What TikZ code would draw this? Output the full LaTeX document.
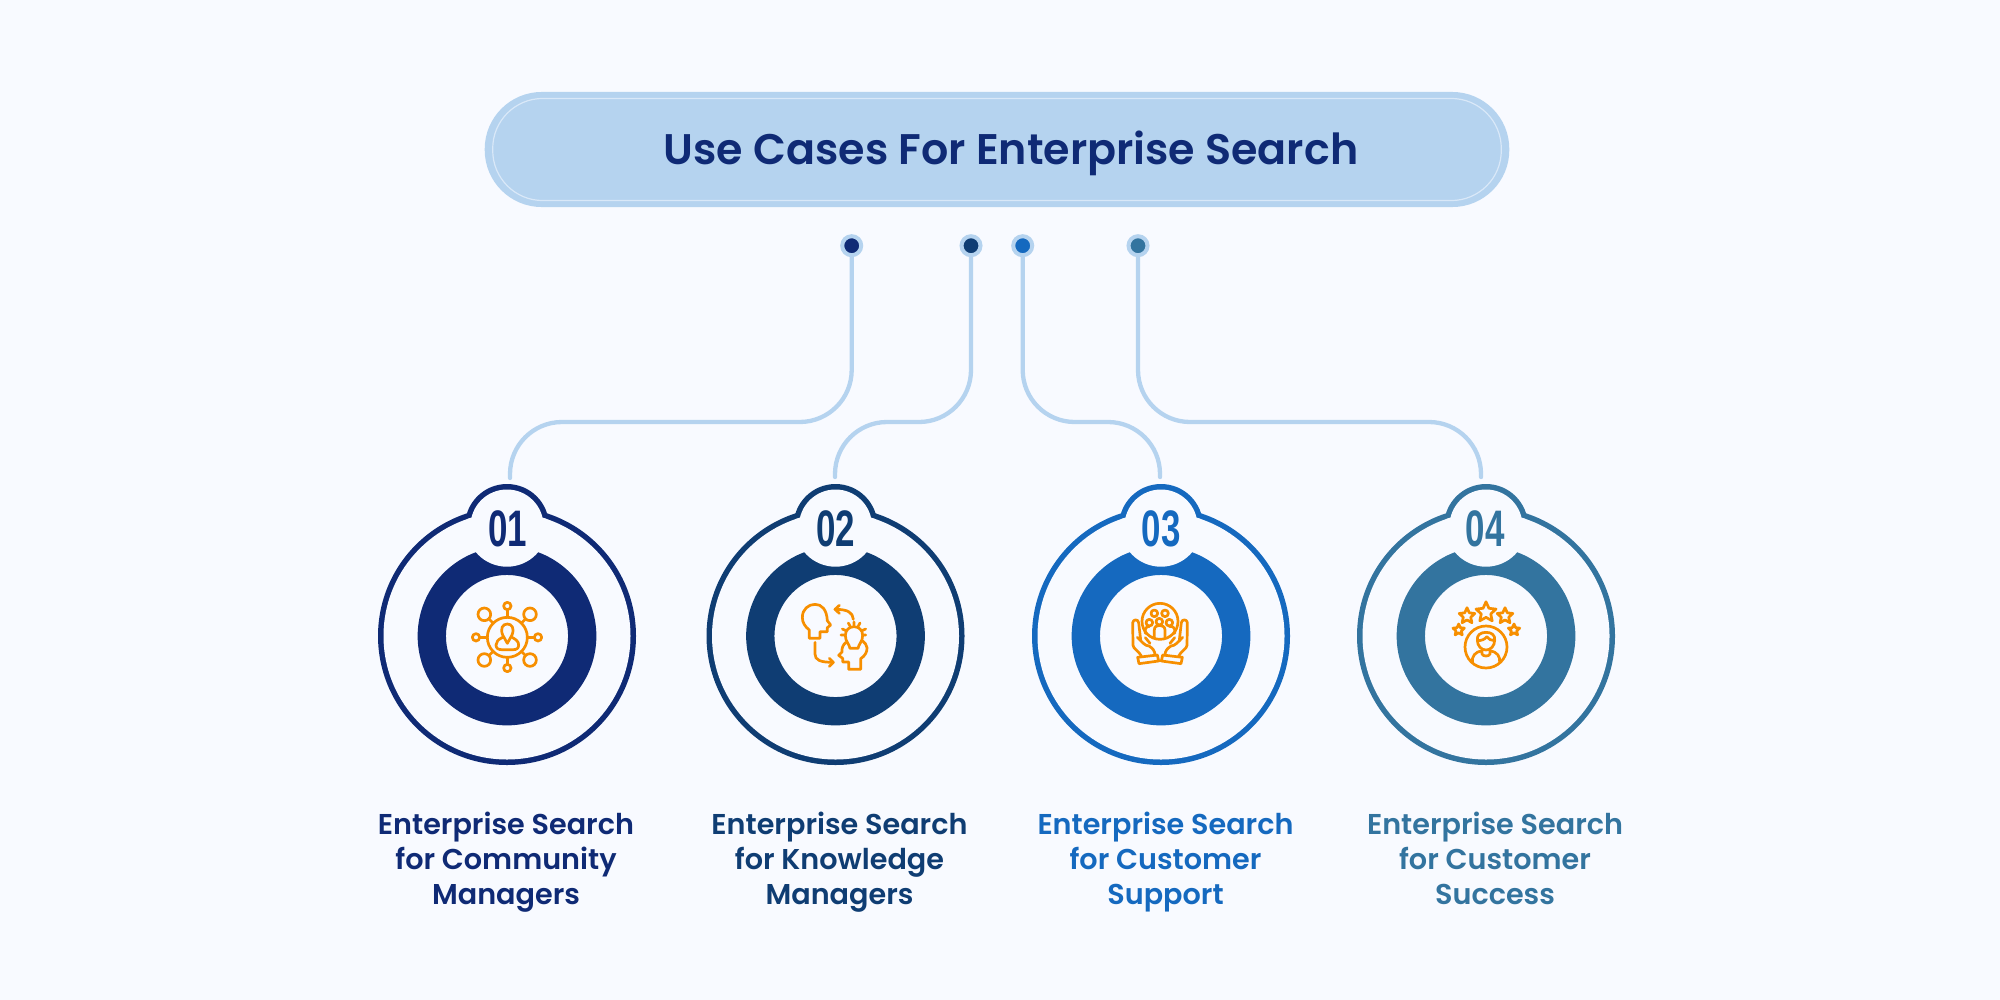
\documentclass[tikz,border=0pt]{standalone}
\usepackage{fontspec}
\usepackage{xcolor}
\usetikzlibrary{shapes.geometric, positioning, calc}
\setmainfont{Poppins SemiBold}
\newfontfamily\numfont{Liberation Sans}[Scale=1.0]
\definecolor{pagebg}{HTML}{F8FAFF}
\definecolor{pilllight}{HTML}{B5D3EF}
\definecolor{pillline}{HTML}{D9E8F8}
\definecolor{commblue}{HTML}{0F2A75}
\definecolor{knowblue}{HTML}{0F3D73}
\definecolor{suppblue}{HTML}{1569BF}
\definecolor{succblue}{HTML}{33749F}
\definecolor{iconorange}{HTML}{F78F00}

\begin{document}
\begin{tikzpicture}[
    x=0.01cm, y=-0.01cm,
    pill/.style={rectangle, rounded corners=0.57cm, fill=pilllight, minimum width=10.24cm, minimum height=1.15cm, inner sep=0},
    pillrim/.style={rectangle, rounded corners=0.5cm, draw=pillline, line width=0.012cm, minimum width=10.08cm, minimum height=1.02cm, inner sep=0},
    startdot/.style={circle, draw=pilllight, line width=0.04cm, fill=#1, minimum size=0.19cm, inner sep=0},
    link/.style={draw=pilllight, line width=0.043cm, line cap=round, rounded corners=0.52cm},
    numtag/.style={font=\numfont\bfseries\fontsize{14.6}{16}\selectfont, text=#1, xscale=0.68, transform shape, inner sep=0},
    usecase/.style={font=\fontsize{8.15}{9.96}\selectfont, text=#1, align=center, inner sep=0},
    iconline/.style={draw=iconorange, line width=0.027cm, line cap=round, line join=round},
    icostar/.style={star, star points=5, star point ratio=2.1, draw=iconorange, line width=0.027cm, line join=round, minimum size=#1, inner sep=0}
]
    % Page
    \fill[pagebg] (0,0) rectangle (2000,1000);
    \useasboundingbox (0,0) rectangle (2000,1000);

    % Title
    \node[pill] (title) at (997,149.5) {};
    \node[pillrim] (titlerim) at (title) {};
    \node[font=\fontsize{12.17}{14}\selectfont, text=commblue, inner sep=0] (titletext) at (1011,153.5) {Use Cases For Enterprise Search};

    % Badges
    \foreach \i/\x/\col in {1/507/commblue, 2/835.5/knowblue, 3/1161/suppblue, 4/1486/succblue} {
        \fill[\col] (\x,636) circle (129) (\x,526) circle (42);
        \fill[pagebg] (\x,636) circle (123.5) (\x,526) circle (36.5);
        \draw[\col, line width=0.283cm] (\x,636) circle (75.2);
        \begin{scope}
            \clip (\x,636) circle (123.5);
            \fill[pagebg] (\x,526) circle (40.7);
        \end{scope}
    }
    \node[numtag=commblue] (num1) at (507.5,529) {01};
    \node[numtag=knowblue] (num2) at (835.5,529) {02};
    \node[numtag=suppblue] (num3) at (1161,529) {03};
    \node[numtag=succblue] (num4) at (1485,529) {04};

    % Dots and connectors
    \node[startdot=commblue] (dot1) at (851.7,245.7) {};
    \node[startdot=knowblue] (dot2) at (971,245.7) {};
    \node[startdot=suppblue] (dot3) at (1022.7,245.7) {};
    \node[startdot=succblue] (dot4) at (1138,245.7) {};
    \coordinate (top1) at (510,478);
    \coordinate (top2) at (835,477);
    \coordinate (top3) at (1160,477);
    \coordinate (top4) at (1481,477);
    \foreach \i in {1,2,3,4} {
        \draw[link] (dot\i.south) -- (dot\i.south |- 0,422) -- (top\i |- 0,422) -- (top\i);
    }

    % Icon 1: person with network
    \begin{scope}[shift={(450,580)}, scale=1/3]
        \draw[iconline] (172,172) circle (60);
        \draw[iconline] (172,78) circle (11) (172,264) circle (11) (78,172) circle (11) (264,172) circle (11);
        \draw[iconline] (103,103) circle (19) (240,103) circle (19) (103,240) circle (19) (240,240) circle (19);
        \draw[iconline] (172,89) -- (172,112) (172,232) -- (172,253) (89,172) -- (112,172) (232,172) -- (253,172);
        \draw[iconline] (117,117) -- (130,130) (226,117) -- (214,130) (117,226) -- (130,214) (226,226) -- (214,214);
        \draw[iconline] (172,190) -- (158,165) .. controls (150,145) and (158,132) .. (172,132) .. controls (186,132) and (194,145) .. (186,165) -- cycle;
        \draw[iconline] (158,172) .. controls (145,178) and (138,185) .. (138,195) .. controls (138,205) and (145,209) .. (155,209) -- (190,209) .. controls (200,209) and (206,205) .. (206,195) .. controls (206,185) and (198,178) .. (186,172);
    \end{scope}

    % Icon 2: heads and bulb
    \begin{scope}[shift={(770,580)}, scale=1/3]
        \draw[iconline] (118,175) -- (118,150) .. controls (105,140) and (97,128) .. (97,112) .. controls (97,88) and (115,73) .. (135,73) .. controls (155,73) and (170,88) .. (172,122) -- (182,135) -- (172,143) -- (172,155) -- (150,155) -- (150,175) -- cycle;
        \draw[iconline] (250,118) .. controls (248,98) and (235,88) .. (195,88);
        \draw[iconline] (208,76) -- (195,88) -- (208,100);
        \draw[iconline] (135,187) -- (135,222) .. controls (135,240) and (150,247) .. (190,247);
        \draw[iconline] (178,235) -- (190,247) -- (178,259);
        \draw[iconline] (240,205) .. controls (238,192) and (226,185) .. (226,166) .. controls (226,150) and (238,140) .. (252,140) .. controls (266,140) and (278,150) .. (278,166) .. controls (278,185) and (266,192) .. (264,205) -- cycle;
        \draw[iconline] (235,129) -- (240,138) (252,126) -- (252,136) (270,129) -- (265,138) (217,147) -- (226,151) (287,147) -- (278,151) (213,165) -- (222,165) (287,165) -- (280,165);
        \draw[iconline] (228,187) .. controls (218,195) and (215,205) .. (216,216) -- (206,226) -- (218,235) -- (218,246) -- (236,246) -- (236,268) -- (272,268) -- (272,236) .. controls (285,228) and (292,215) .. (291,203) .. controls (290,195) and (285,188) .. (278,183);
    \end{scope}

    % Icon 3: people held in two hands
    \begin{scope}[shift={(1100,580)}, scale=1/3]
        \draw[iconline] (180,124) circle (54);
        \draw[iconline] (163,100) circle (10) (195,100) circle (10) (148,128) circle (10) (178,125) circle (10) (208,128) circle (10);
        \draw[iconline] (163,175) -- (163,150) .. controls (163,140) and (170,136) .. (178,136) .. controls (186,136) and (195,140) .. (195,150) -- (195,175);
        \draw[iconline] (136,160) -- (136,148) .. controls (137,142) and (142,139) .. (148,139) (224,160) -- (224,148) .. controls (223,142) and (218,139) .. (208,139);
        \foreach \m/\o in {1/0, -1/360} {
            \begin{scope}[shift={(\o,0)}, xscale=\m]
                \draw[iconline] (122,180) -- (116,128) .. controls (115,117) and (99,117) .. (98,128) -- (99,196) .. controls (99,205) and (118,215) .. (124,228);
                \draw[iconline] (112,172) .. controls (125,185) and (135,198) .. (147,198) .. controls (158,205) and (165,212) .. (165,226);
                \draw[iconline] (136,173) -- (150,190);
                \draw[iconline] (113,232) -- (172,225) -- (176,243) -- (117,251) -- cycle;
            \end{scope}
        }
    \end{scope}

    % Icon 4: person with stars
    \begin{scope}[shift={(1420,580)}, scale=1/3]
        \node[icostar=0.21cm] (star1) at (198,97) {};
        \node[icostar=0.165cm] (star2) at (141,108) {};
        \node[icostar=0.165cm] (star3) at (255,108) {};
        \node[icostar=0.12cm] (star4) at (116,150) {};
        \node[icostar=0.12cm] (star5) at (282,150) {};
        \draw[iconline] (198,201) circle (63);
        \draw[iconline] (172,180) .. controls (170,165) and (182,157) .. (198,157) .. controls (214,157) and (226,165) .. (224,180) .. controls (224,198) and (212,210) .. (198,210) .. controls (184,210) and (172,198) .. (172,180) -- cycle;
        \draw[iconline] (172,182) .. controls (185,182) and (195,178) .. (200,170) .. controls (205,178) and (215,182) .. (224,182);
        \draw[iconline] (157,248) .. controls (155,228) and (165,216) .. (186,212) -- (186,222) .. controls (190,230) and (206,230) .. (210,222) -- (210,212) .. controls (231,216) and (241,228) .. (239,248);
    \end{scope}

    % Labels below
    \node[usecase=commblue] (label1) at (506,862) {Enterprise Search\\for Community\\Managers};
    \node[usecase=knowblue] (label2) at (839.5,862) {Enterprise Search\\for Knowledge\\Managers};
    \node[usecase=suppblue] (label3) at (1165.5,862) {Enterprise Search\\for Customer\\Support};
    \node[usecase=succblue] (label4) at (1495,858) {Enterprise Search\\for Customer\\Success};
\end{tikzpicture}
\end{document}
